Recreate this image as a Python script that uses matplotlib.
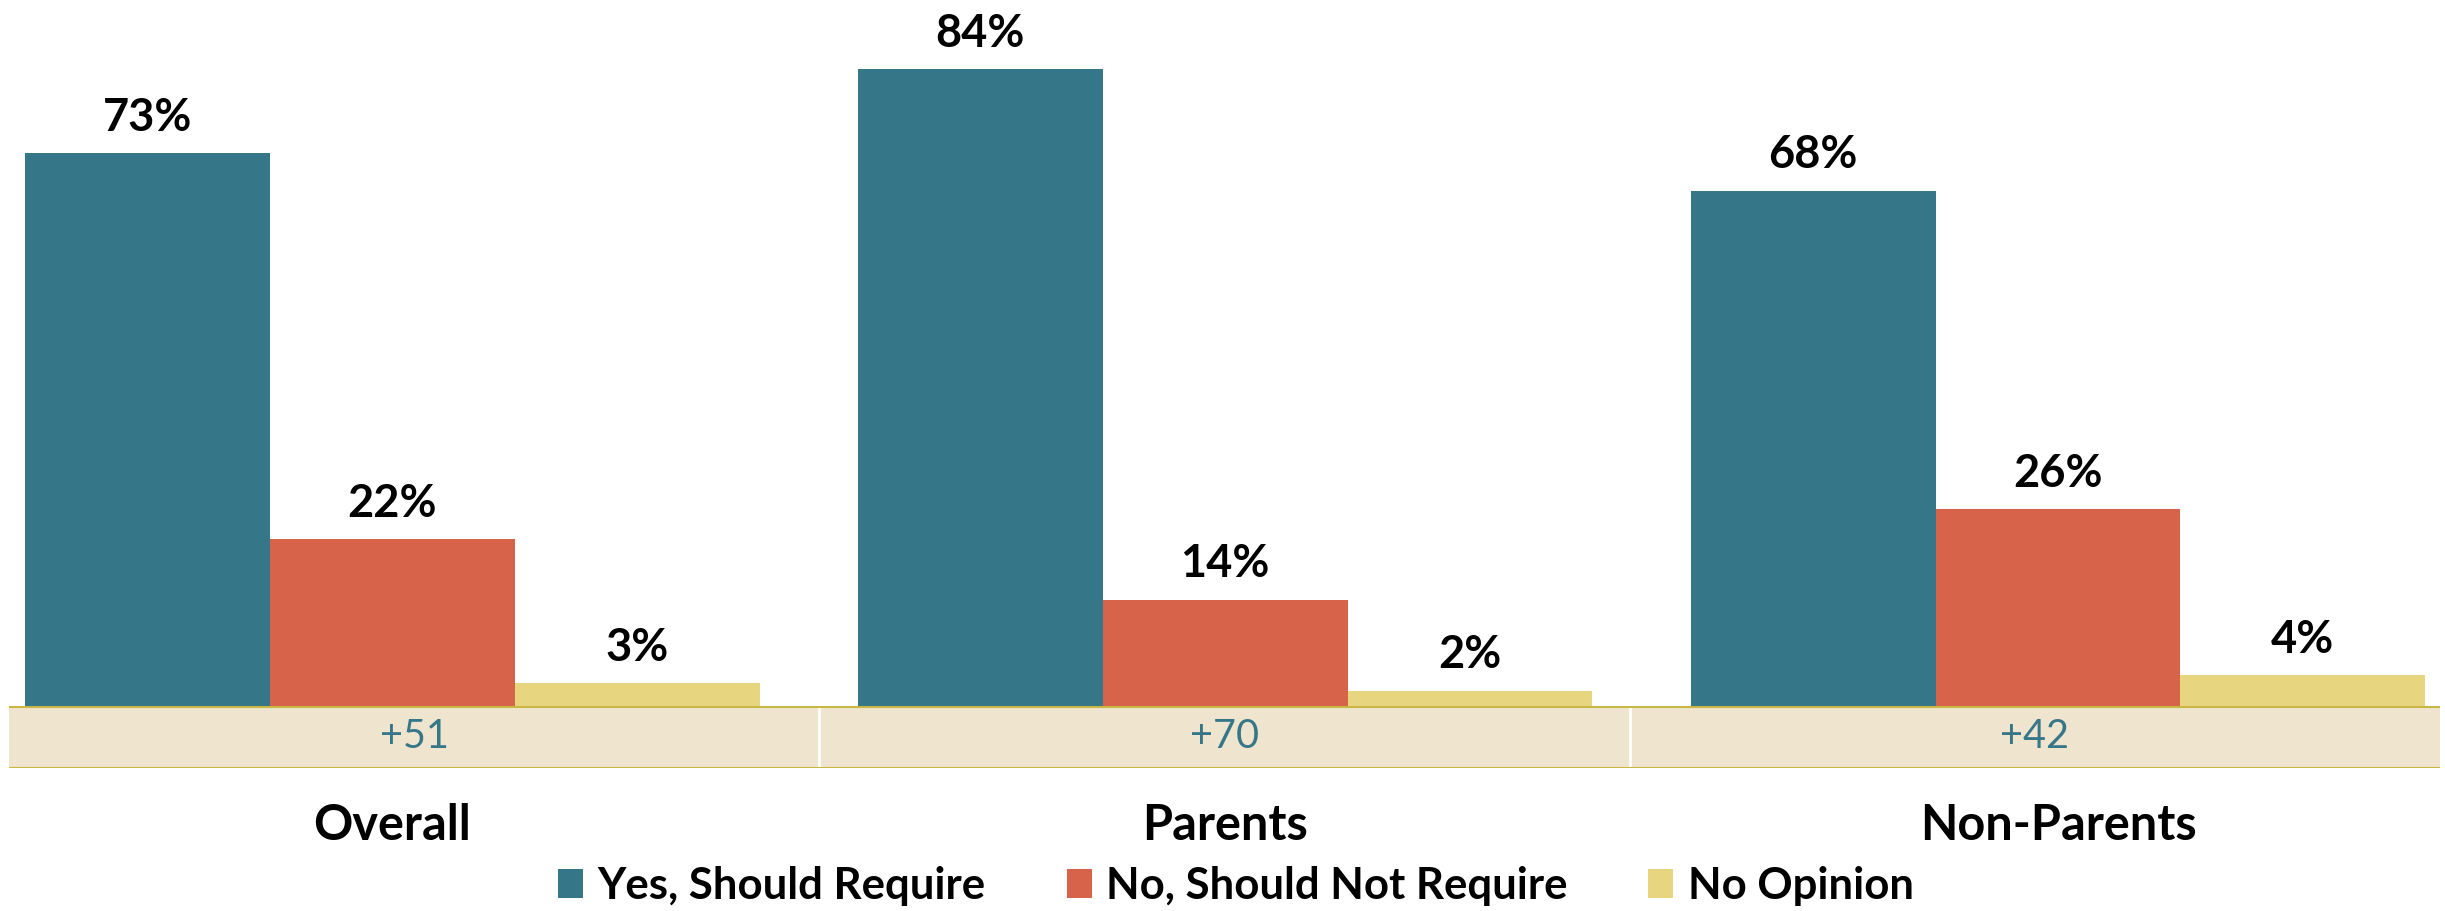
import matplotlib
matplotlib.use("Agg")
import matplotlib.pyplot as plt
from matplotlib.patches import Patch
import numpy as np

categories = ["Overall", "Parents", "Non-Parents"]
series_names = ["Yes, Should Require", "No, Should Not Require", "No Opinion"]
yes_vals = [73, 84, 68]
no_vals = [22, 14, 26]
noop_vals = [3, 2, 4]
net_labels = ["+51", "+70", "+42"]

colors = ["#367689", "#D7634A", "#E8D57F"]
table_fill = "#EFE4CD"
table_line = "#C8B842"

W, H = 2445, 911
fig = plt.figure(figsize=(W / 100, H / 100), dpi=100)
plt.rcParams['font.family'] = ['Lato', 'DejaVu Sans']

base_px = 705.7
ax = fig.add_axes([0, 1 - base_px / H, 1, base_px / H])
ax.set_xlim(-0.4713, 2.4647)
ax.set_ylim(0, 93.17)
ax.axis('off')

x = np.arange(len(categories))
bw = 0.294
series = [yes_vals, no_vals, noop_vals]
for k, (vals, col, name) in enumerate(zip(series, colors, series_names)):
    xs = x + (k - 1) * bw
    ax.bar(xs, vals, width=bw, color=col, label=name, linewidth=0)
    for xi, v in zip(xs, vals):
        ax.annotate(f"{v}%", (xi, v), xytext=(0, 16), textcoords='offset points',
                    ha='center', va='baseline', fontsize=32.5, fontweight='bold',
                    color='black')

for xi, cat in zip(x, categories):
    ax.text(xi, -(840 - base_px) / base_px, cat, transform=ax.get_xaxis_transform(),
            ha='center', va='baseline', fontsize=35, fontweight='bold', color='black')

# data table row
t_left, t_right, t_top, t_bot = 9, 2440, 706, 768
tax = fig.add_axes([t_left / W, 1 - t_bot / H, (t_right - t_left) / W, (t_bot - t_top) / H])
tax.set_xlim(0, 3)
tax.set_ylim(0, 1)
tax.axis('off')
tax.bar(np.arange(3) + 0.5, [1, 1, 1], width=1, color=table_fill, linewidth=0)
for d in [1, 2]:
    tax.axvline(d, color='white', lw=2)
tax.axhline(0, color=table_line, lw=2.2)
tax.axhline(1, color=table_line, lw=2.2)
for i, lab in enumerate(net_labels):
    tax.text(i + 0.5, 0.5, lab, ha='center', va='center', fontsize=28.5,
             color=colors[0])

handles = [Patch(facecolor=c, edgecolor='none') for c in colors]
fig.legend(handles, series_names, loc='center', bbox_to_anchor=(1236 / W, 1 - 886 / H),
           ncol=3, frameon=False, prop={'size': 31.5, 'weight': 'bold'},
           handlelength=0.57, handleheight=0.62, handletextpad=0.33,
           columnspacing=1.85, borderaxespad=0, borderpad=0)

fig.savefig("out.png", dpi=100)
